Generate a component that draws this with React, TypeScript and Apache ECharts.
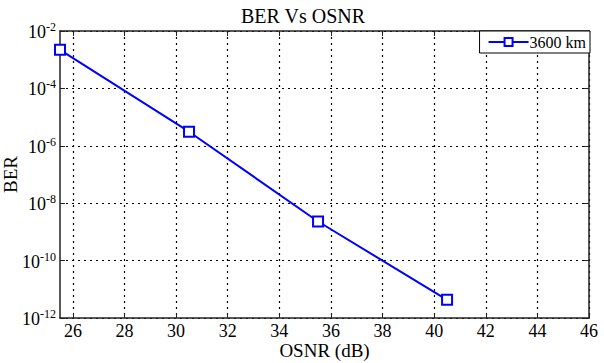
import React, { useEffect, useRef } from "react";
import * as echarts from "echarts";

const osnr = [25.5, 30.5, 35.5, 40.5];
const ber = [2.2e-3, 3.1e-6, 2.3e-9, 4.3e-12];
const xTicks = [26, 28, 30, 32, 34, 36, 38, 40, 42, 44, 46];
const seriesName = "3600 km";
const FONT = "Liberation Serif";

export default function App() {
  const ref = useRef<HTMLDivElement>(null);
  useEffect(() => {
    const chart = echarts.init(ref.current!, null, { renderer: "svg" });
    const dataPts = osnr.map((x, i) => [x, ber[i]]);
    const axisLineStyle = { color: "#222", width: 1.5 };
    const txt = (size: number) => ({
      fontFamily: FONT,
      fontSize: size,
      fontWeight: "normal",
      fontStyle: "normal",
      color: "#000",
    });
    chart.setOption({
      animation: false,
      backgroundColor: "#fff",
      textStyle: { fontFamily: FONT },
      title: {
        text: "BER Vs OSNR",
        left: 303,
        top: 6,
        textAlign: "center",
        padding: 0,
        textStyle: txt(20),
      },
      grid: { left: 60, right: 15, top: 31, bottom: 45, containLabel: false, outerBoundsMode: "none" },
      legend: {
        right: 14,
        top: 31,
        backgroundColor: "#fff",
        borderColor: "#000",
        borderWidth: 1,
        borderRadius: 0,
        padding: [3, 4, 3, 8],
        itemWidth: 40,
        itemHeight: 10,
        itemGap: 2,
        textStyle: { ...txt(16), padding: [0, 0, 0, -4] },
        data: [seriesName],
      },
      xAxis: [
        {
          type: "value",
          min: 25.5,
          max: 46,
          name: "OSNR (dB)",
          nameLocation: "middle",
          nameGap: 23,
          nameMoveOverlap: false,
          nameTextStyle: { ...txt(19), lineHeight: 19 },
          axisLine: { show: true, onZero: false, lineStyle: axisLineStyle },
          axisTick: { show: true, inside: true, length: 5, customValues: xTicks, lineStyle: { color: "#222" } },
          axisLabel: {
            customValues: xTicks,
            ...txt(18),
            lineHeight: 17,
            margin: 4,
          },
          splitLine: { show: true, lineStyle: { color: "#000", type: [2, 4], width: 1.2 } },
        },
        {
          type: "value",
          position: "top",
          min: 25.5,
          max: 46,
          axisLine: { show: true, onZero: false, lineStyle: axisLineStyle },
          axisTick: { show: true, inside: true, length: 5, customValues: xTicks, lineStyle: { color: "#222" } },
          axisLabel: { show: false, customValues: xTicks },
          splitLine: { show: false },
        },
      ],
      yAxis: [
        {
          type: "log",
          logBase: 10,
          min: 1e-12,
          max: 1e-2,
          interval: 2,
          name: "BER",
          nameLocation: "middle",
          nameGap: 40,
          nameMoveOverlap: false,
          nameTextStyle: txt(19),
          axisLine: { show: true, onZero: false, lineStyle: axisLineStyle },
          axisTick: { show: true, inside: true, length: 5, lineStyle: { color: "#222" } },
          minorTick: { show: false },
          axisLabel: {
            margin: 4,
            ...txt(18),
            formatter: (v: number) => {
              const e = Math.round(Math.log10(v));
              return `{b|10}{s|${e}}`;
            },
            rich: {
              b: { ...txt(18), verticalAlign: "bottom" },
              s: { ...txt(12), verticalAlign: "top", padding: [0, 0, 8, 0] },
            },
          },
          splitLine: { show: true, lineStyle: { color: "#000", type: [2, 4], width: 1.2 } },
        },
        {
          type: "log",
          logBase: 10,
          min: 1e-12,
          max: 1e-2,
          interval: 2,
          position: "right",
          axisLine: { show: true, onZero: false, lineStyle: axisLineStyle },
          axisTick: { show: true, inside: true, length: 5, lineStyle: { color: "#222" } },
          axisLabel: { show: false },
          splitLine: { show: false },
        },
      ],
      series: [
        {
          name: seriesName,
          type: "line",
          data: dataPts,
          symbol: "emptyRect",
          symbolSize: 10,
          color: "#0000ff",
          lineStyle: { color: "#0000ff", width: 2 },
          itemStyle: { color: "#0000ff", borderColor: "#0000ff", borderWidth: 1.5 },
        },
      ],
    });
    return () => chart.dispose();
  }, []);
  return (
    <div
      ref={ref}
      style={{ position: "fixed", left: 0, top: 0, width: 604, height: 363 }}
    />
  );
}
